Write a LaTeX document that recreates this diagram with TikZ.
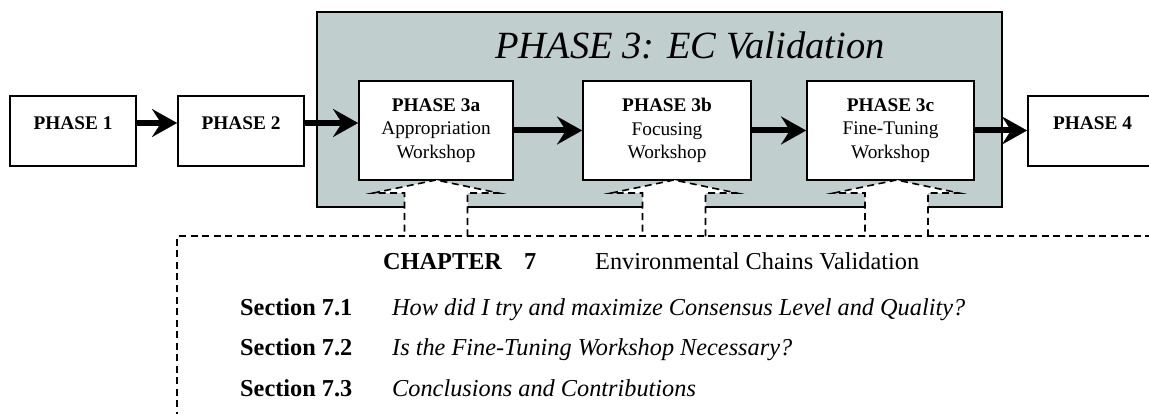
\documentclass[tikz,border=0pt]{standalone}
\usepackage{fontspec}
\setmainfont{Liberation Serif}
\usetikzlibrary{arrows.meta}
\definecolor{panelgray}{RGB}{193,206,206}
\begin{document}
\begin{tikzpicture}[x=1pt,y=-1pt,
  box/.style={draw=black, line width=2pt, fill=white, inner sep=0pt},
  boxlabel/.style={font=\fontsize{19.3}{23.7}\selectfont\bfseries, inner sep=0pt, anchor=base},
  boxtext/.style={font=\fontsize{19.3}{23.7}\selectfont, align=center, inner sep=0pt},
  flow/.style={line width=6pt, -{Stealth[length=25pt,width=28pt,inset=9pt,line width=0.1pt]}},
  dashline/.style={line width=1.8pt, dash pattern=on 7pt off 4.5pt},
  chaprm/.style={font=\fontsize{24.3}{29}\selectfont, inner sep=0pt, anchor=base west},
  chapbf/.style={font=\fontsize{24.3}{29}\selectfont\bfseries, inner sep=0pt, anchor=base west},
  chapit/.style={font=\fontsize{24.3}{29}\selectfont\itshape, inner sep=0pt, anchor=base west},
]
\useasboundingbox (0,0) rectangle (1149,414);
\clip (0,0) rectangle (1149,414);

% Phase 3 panel
\node[draw=black, line width=2pt, fill=panelgray, minimum width=685pt, minimum height=195pt, inner sep=0pt] (p3) at (659.5,109.5) {};
\node[font=\fontsize{38.5}{46}\selectfont\itshape, anchor=base west, inner sep=0pt] (title) at (495,58.3) {PHASE 3: EC Validation};

% outer phases
\node[box, minimum width=126pt, minimum height=70pt] (p1) at (73,131) {};
\node[boxlabel] (p1t) at (73,129.3) {PHASE 1};
\node[box, minimum width=126pt, minimum height=70pt] (p2) at (241,131) {};
\node[boxlabel] (p2t) at (241,129.3) {PHASE 2};
\node[box, minimum width=129pt, minimum height=70pt] (p4) at (1092.5,131) {};
\node[boxlabel] (p4t) at (1092.5,129.3) {PHASE 4};

% workshops
\node[box, minimum width=154pt, minimum height=99pt] (p3a) at (436,130.5) {};
\node[boxtext] (p3at) at (436,130.5) {\textbf{PHASE 3a}\\Appropriation\\Workshop};
\node[box, minimum width=168pt, minimum height=99pt] (p3b) at (667,130.5) {};
\node[boxtext] (p3bt) at (667,130.5) {\textbf{PHASE 3b}\\Focusing\\Workshop};
\node[box, minimum width=167pt, minimum height=99pt] (p3c) at (890.5,130.5) {};
\node[boxtext] (p3ct) at (890.5,130.5) {\textbf{PHASE 3c}\\Fine-Tuning\\Workshop};

% flow arrows
\coordinate (a1) at ([yshift=8pt]p1.east);
\coordinate (a2) at ([yshift=8pt]p2.east);
\draw[flow] (a1) -- (a1 -| p2.west);
\draw[flow] (a2) -- (a2 -| p3a.west);
\draw[flow] (p3a.east) -- (p3b.west);
\draw[flow] (p3b.east) -- (p3c.west);
\draw[flow] (p3c.east) -- (p3c.east -| p4.west);

% dashed block arrows from the chapter box up to each workshop
\def\feedarrow#1{%
  \fill[white] (#1,180) -- (#1+62.5,193) -- (#1+31.5,193) -- (#1+31.5,236.3)
    -- (#1-31.5,236.3) -- (#1-31.5,193) -- (#1-62.5,193) -- cycle;
  \draw[dashline, line width=1.6pt] (#1+31.5,236.3) -- (#1+31.5,193) -- (#1+62.5,193)
    -- (#1,180) -- (#1-62.5,193) -- (#1-31.5,193) -- (#1-31.5,236.3);
}
\feedarrow{436}
\feedarrow{674}
\feedarrow{896.5}

% chapter box
\draw[dashline] (177.3,430) -- (177.3,236.3) -- (1160,236.3);

\node[chapbf] (ch) at (383,269.7) {CHAPTER};
\node[chapbf] (chn) at (524,269.7) {7};
\node[chaprm] (cht) at (595,269.7) {Environmental Chains Validation};
\node[chapbf] (s1) at (240,315.3) {Section 7.1};
\node[chapit] (t1) at (392,315.3) {How did I try and maximize Consensus Level and Quality?};
\node[chapbf] (s2) at (240,355.7) {Section 7.2};
\node[chapit] (t2) at (392,355.7) {Is the Fine-Tuning Workshop Necessary?};
\node[chapbf] (s3) at (240,396.3) {Section 7.3};
\node[chapit] (t3) at (392,396.3) {Conclusions and Contributions};
\end{tikzpicture}
\end{document}
